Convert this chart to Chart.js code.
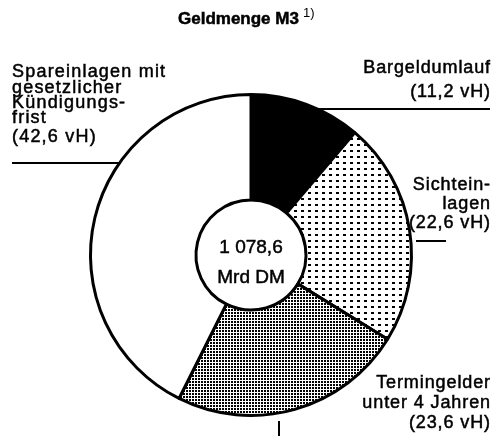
<!DOCTYPE html>
<html>
<head>
<meta charset="utf-8">
<script src="https://cdn.jsdelivr.net/npm/chart.js@4"></script>
<style>
  html, body { margin: 0; padding: 0; background: #fff; }
</style>
</head>
<body>
<canvas id="chart" width="496" height="436"></canvas>
<script>
'use strict'

// Daten
const categories = ['Bargeldumlauf', 'Sichteinlagen', 'Termingelder unter 4 Jahren', 'Spareinlagen mit gesetzlicher Kündigungsfrist'];
const shares = [11.2, 22.6, 23.6, 42.6];
const labelLines = [
  ['Bargeldumlauf'],
  ['Sichtein-', 'lagen'],
  ['Termingelder', 'unter 4 Jahren'],
  ['Spareinlagen mit', 'gesetzlicher', 'Kündigungs-', 'frist'],
];
const totalText = ['1 078,6', 'Mrd DM'];
const titleText = 'Geldmenge M3';
const titleNote = '1)';

const FONT = '"Liberation Sans", Arial, sans-serif';
const ctx = document.getElementById('chart');

// Raster fuer die Flaechen
function makePattern(w, h, dw, dh) {
  const c = document.createElement('canvas');
  c.width = w;
  c.height = h;
  const g = c.getContext('2d');
  g.fillStyle = '#fff';
  g.fillRect(0, 0, w, h);
  g.fillStyle = '#000';
  g.fillRect(0, 0, dw, dh);
  return ctx.getContext('2d').createPattern(c, 'repeat');
}
const sparseDots = makePattern(7, 6, 3, 2);
const denseDots = makePattern(3, 3, 2, 2);

function pct(v) {
  return '(' + v.toFixed(1).replace('.', ',') + ' vH)';
}

// Text etwas kraeftiger, wie im Druck
function heavyText(g, t, x, y) {
  g.fillText(t, x, y);
  g.strokeText(t, x, y);
}

// Beschriftung, Titel, Mitte
const textPlugin = {
  id: 'texts',
  afterDraw(chart) {
    const g = chart.ctx;
    const arc = chart.getDatasetMeta(0).data[0];
    const cx = arc.x, cy = arc.y;
    g.save();
    g.fillStyle = '#000';
    g.strokeStyle = '#000';
    g.lineWidth = 0.5;
    g.textBaseline = 'middle';

    // Titel
    g.font = 'bold 17px ' + FONT;
    g.textAlign = 'left';
    const tw = g.measureText(titleText).width;
    heavyText(g, titleText, 178, 19);
    g.font = '13px ' + FONT;
    g.fillText(titleNote, 178 + tw + 4, 13);

    // Mitte
    g.font = '19px ' + FONT;
    g.textAlign = 'center';
    heavyText(g, totalText[0], cx, cy - 7);
    heavyText(g, totalText[1], cx, cy + 23);

    // Segmentbeschriftungen
    g.font = '18px ' + FONT;
    g.letterSpacing = '0.9px';
    const right = 491;
    g.textAlign = 'right';
    const rows = [
      [68, 24],
      [185, 19],
      [383, 20],
    ];
    for (let i = 0; i < 3; i++) {
      const lines = labelLines[i].concat([pct(shares[i])]);
      lines.forEach((t, j) => heavyText(g, t, right, rows[i][0] + j * rows[i][1]));
    }
    g.textAlign = 'left';
    g.letterSpacing = '1.2px';
    const sp = labelLines[3].concat([pct(shares[3])]);
    const spY = [72, 88, 103, 118, 137];
    sp.forEach((t, j) => heavyText(g, t, 12, spY[j]));
    g.letterSpacing = '0px';

    // Hinweislinien
    g.lineWidth = 2;
    g.beginPath();
    g.moveTo(318, 109); g.lineTo(490, 109);
    g.moveTo(12, 163); g.lineTo(121, 163);
    g.moveTo(416, 241); g.lineTo(446, 241);
    g.moveTo(279, 421); g.lineTo(279, 436);
    g.stroke();
    g.restore();
  }
};

new Chart(ctx, {
  type: 'doughnut',
  data: {
    labels: categories,
    datasets: [{
      data: shares,
      backgroundColor: ['#000', sparseDots, denseDots, '#fff'],
      borderColor: '#000',
      borderWidth: 3,
    }]
  },
  options: {
    responsive: false,
    animation: false,
    cutout: 55,
    layout: { padding: { left: 89, right: 83, top: 93, bottom: 19 } },
    plugins: {
      legend: { display: false },
      tooltip: { enabled: false },
    },
  },
  plugins: [textPlugin],
});
</script>
</body>
</html>
